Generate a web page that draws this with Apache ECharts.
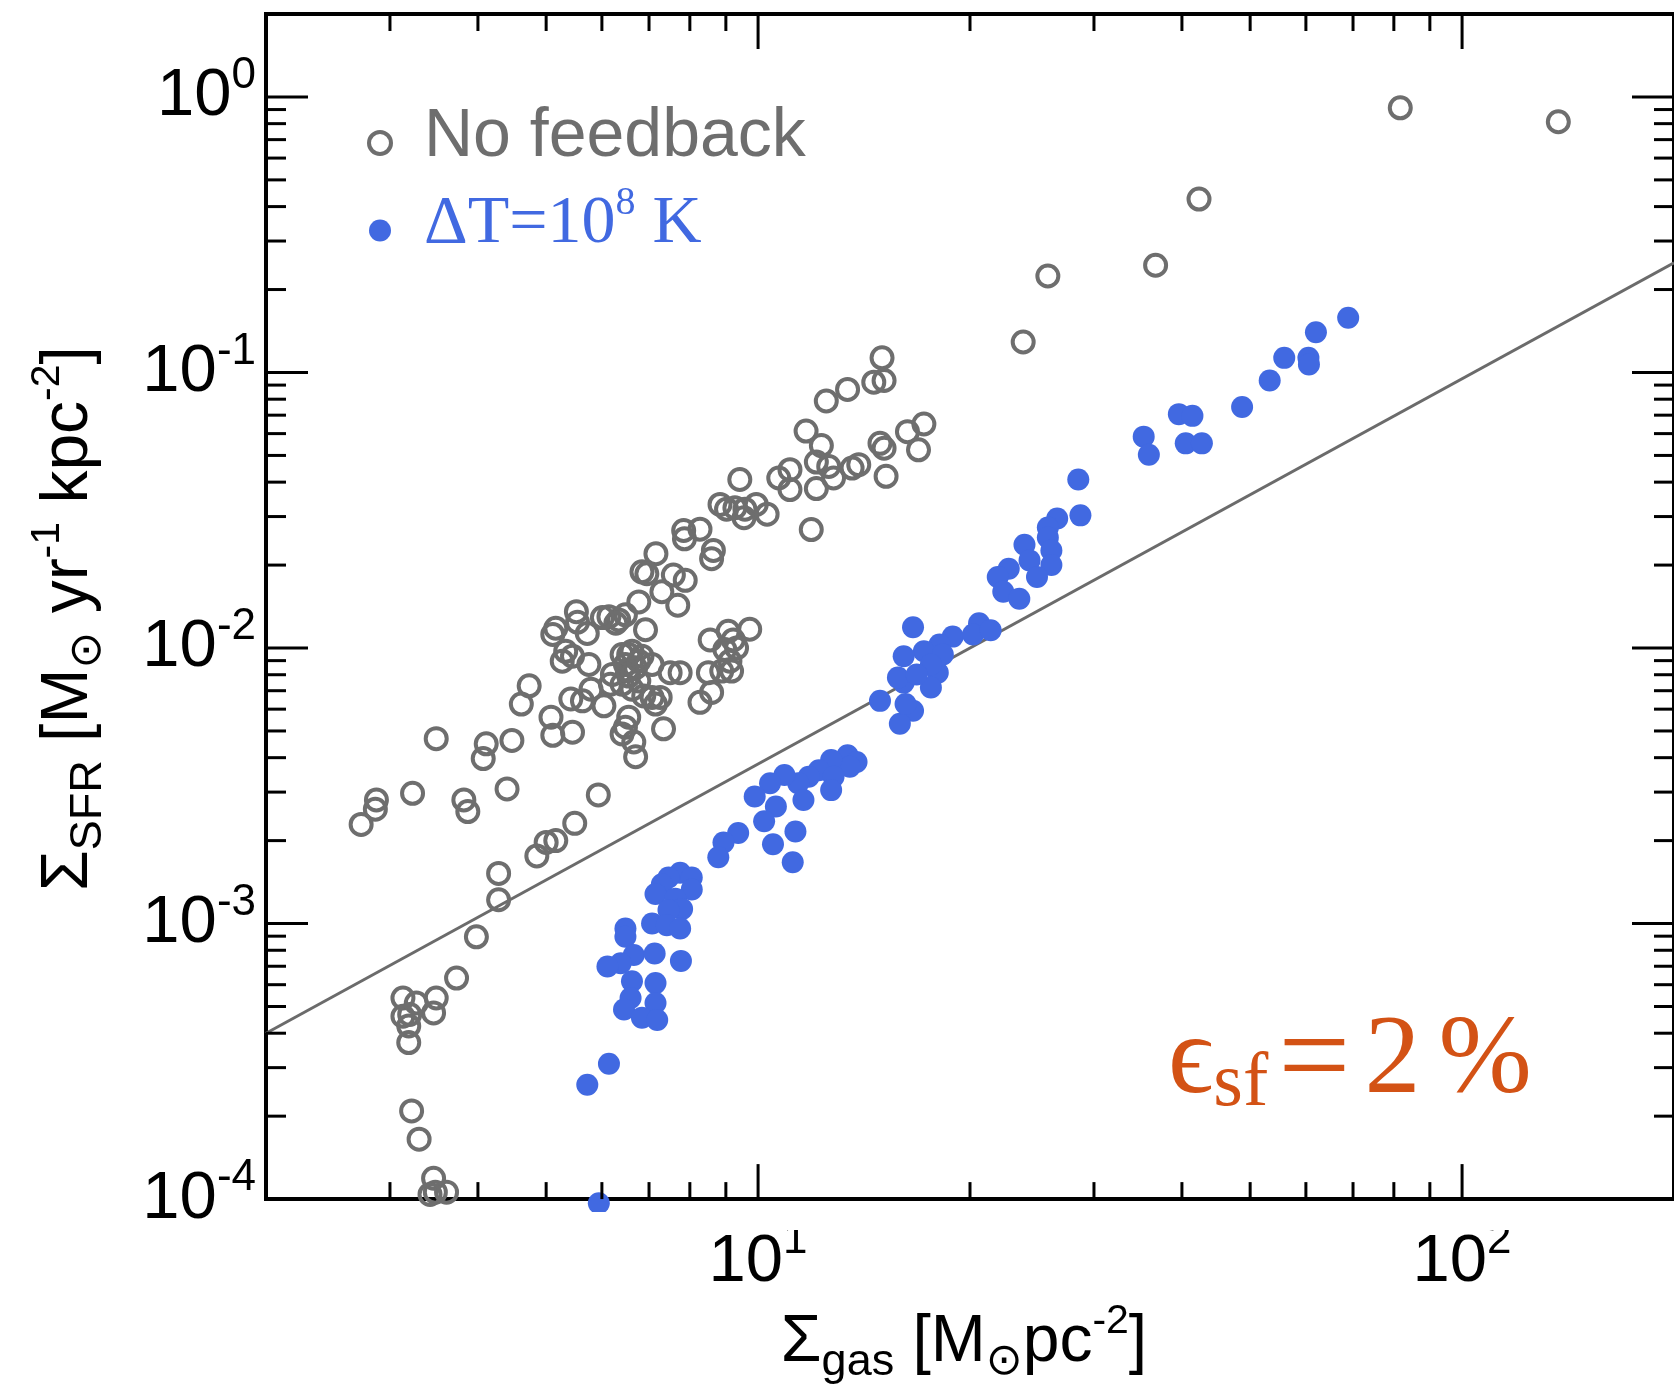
<!DOCTYPE html>
<html>
<head>
<meta charset="utf-8">
<script src="https://cdn.jsdelivr.net/npm/echarts@6/dist/echarts.min.js"></script>
<style>
  html, body { margin: 0; padding: 0; background: #ffffff; }
  #chart { width: 1674px; height: 1390px; }
</style>
</head>
<body>
<div id="chart"></div>
<script>
// Gas surface density [Msun pc^-2] vs SFR surface density [Msun yr^-1 kpc^-2]
const noFeedback = [
  [81.7, 0.913], [137, 0.813], [42.3, 0.426], [36.7, 0.245], [25.8, 0.224], [23.8, 0.129],
  [15.0, 0.113], [14.6, 0.0922], [15.1, 0.0935], [13.4, 0.0868], [12.5, 0.0788], [11.7, 0.0613],
  [12.3, 0.0543], [12.1, 0.0473], [12.6, 0.0456], [12.8, 0.0414], [12.1, 0.0379], [13.6, 0.0450],
  [13.9, 0.0463], [14.9, 0.0553], [15.1, 0.0531], [15.2, 0.0420], [16.3, 0.0610], [17.2, 0.0650],
  [16.9, 0.0524], [11.9, 0.0269], [11.1, 0.0444], [10.7, 0.0414], [11.1, 0.0376], [9.42, 0.0409],
  [8.83, 0.0332], [9.02, 0.0319], [9.27, 0.0323], [9.58, 0.0319], [9.55, 0.0297], [9.94, 0.0332],
  [10.3, 0.0306], [7.84, 0.0267], [7.86, 0.0249], [8.27, 0.0270], [8.64, 0.0226], [8.59, 0.0211],
  [7.16, 0.0220], [6.84, 0.0189], [6.95, 0.0186], [6.77, 0.0147], [7.58, 0.0184], [7.88, 0.0176],
  [7.30, 0.0160], [7.69, 0.0143], [6.14, 0.0130], [6.34, 0.01265], [6.92, 0.01165], [5.52, 0.01355],
  [6.48, 0.0132], [6.28, 0.0123], [5.16, 0.0118], [5.11, 0.0112], [5.72, 0.0113], [5.33, 0.00973],
  [5.45, 0.00934], [5.27, 0.00896], [5.75, 0.00872], [8.55, 0.0107], [9.07, 0.0115], [9.73, 0.0117],
  [9.22, 0.0107], [9.32, 0.0100], [8.97, 0.00987], [9.12, 0.00896], [8.50, 0.00814], [8.88, 0.00825],
  [9.17, 0.00825], [8.59, 0.00690], [8.27, 0.00635], [6.41, 0.00947], [6.62, 0.00973], [6.84, 0.00934],
  [6.48, 0.00872], [6.70, 0.00848], [6.55, 0.00791], [6.77, 0.00759], [6.41, 0.00739], [6.62, 0.00709],
  [7.07, 0.00872], [6.17, 0.00739], [5.79, 0.00709], [7.50, 0.00814], [7.75, 0.00814], [7.07, 0.00662],
  [7.26, 0.00662], [7.15, 0.00626], [6.88, 0.00670], [5.42, 0.00653], [5.63, 0.00643], [6.04, 0.00617],
  [4.73, 0.00729], [4.61, 0.00626], [5.08, 0.00561], [5.11, 0.00482], [5.45, 0.00495], [6.55, 0.00561],
  [6.48, 0.00516], [6.41, 0.00488], [6.66, 0.00456], [6.70, 0.00403], [7.34, 0.00509], [3.49, 0.00469],
  [4.11, 0.00449], [4.07, 0.00397], [4.47, 0.00462], [3.23, 0.00297], [2.87, 0.00281], [2.86, 0.00260],
  [2.73, 0.00229], [3.82, 0.00281], [3.87, 0.00255], [4.40, 0.00308], [5.93, 0.00293], [5.49, 0.00231],
  [5.00, 0.00197], [5.16, 0.00200], [4.85, 0.00176], [4.28, 0.00152], [4.28, 0.00122], [3.98, 0.000895],
  [3.73, 0.000634], [3.49, 0.000537], [3.13, 0.000537], [3.27, 0.000515], [3.46, 0.000474], [3.13, 0.000461],
  [3.20, 0.000468], [3.19, 0.000425], [3.19, 0.000370], [3.22, 0.000209], [3.30, 0.000165], [3.46, 0.000119],
  [3.48, 0.000106], [3.61, 0.000106], [3.42, 0.000104], [6.21, 0.00802], [6.55, 0.00947], [6.77, 0.00896],
  [6.52, 0.00830], [6.01, 0.0129], [5.54, 0.0124]
];

const heated = [
  [68.9, 0.158], [62.0, 0.140], [55.9, 0.113], [60.5, 0.113], [60.6, 0.107], [53.3, 0.0935],
  [48.7, 0.0750], [39.6, 0.0706], [41.4, 0.0696], [40.5, 0.0553], [42.7, 0.0553], [35.3, 0.0585],
  [35.9, 0.0503], [28.5, 0.0409], [28.7, 0.0303], [26.6, 0.0295], [25.8, 0.0274], [25.8, 0.0252],
  [23.9, 0.0237], [26.1, 0.0226], [24.3, 0.0208], [26.1, 0.0200], [24.9, 0.0181], [22.7, 0.0194],
  [21.9, 0.0181], [22.3, 0.0160], [23.5, 0.0151], [16.6, 0.0119], [18.9, 0.0110], [20.6, 0.0123],
  [20.2, 0.0112], [21.4, 0.0116], [18.1, 0.0103], [17.2, 0.00973], [16.1, 0.00934], [18.0, 0.00814],
  [17.6, 0.00719], [16.1, 0.00749], [16.6, 0.00592], [15.9, 0.00531], [18.3, 0.00947], [17.6, 0.00872],
  [15.8, 0.00781], [16.8, 0.00802], [14.9, 0.00643], [16.2, 0.00626], [13.4, 0.00408], [13.8, 0.00386],
  [13.5, 0.00371], [12.7, 0.00392], [12.2, 0.00360], [12.8, 0.00341], [12.7, 0.00305], [11.8, 0.00341],
  [11.4, 0.00323], [11.6, 0.00281], [10.9, 0.00346], [10.4, 0.00323], [9.89, 0.00289], [10.6, 0.00266],
  [10.2, 0.00235], [11.3, 0.00216], [10.5, 0.00194], [11.2, 0.00167], [9.37, 0.00213], [8.93, 0.00197],
  [8.78, 0.00174], [7.75, 0.00153], [8.05, 0.00147], [7.46, 0.00147], [7.30, 0.00139], [8.05, 0.00133],
  [7.15, 0.00128], [7.63, 0.00123], [7.80, 0.00113], [7.46, 0.00112], [7.07, 0.00100], [7.42, 0.000986],
  [7.75, 0.000959], [6.48, 0.000959], [6.48, 0.000895], [6.66, 0.000769], [6.38, 0.000718], [6.11, 0.000698],
  [7.13, 0.000779], [7.77, 0.000732], [6.62, 0.000617], [7.15, 0.000608], [6.59, 0.000537], [7.15, 0.000515],
  [6.45, 0.000488], [6.84, 0.000455], [7.19, 0.000447], [6.14, 0.000310], [5.72, 0.000260], [5.94, 0.0000966]
];

// Reference star-formation relation for a 2% efficiency
const relationGas = [2, 200];
const relationSfr = [4.0e-4, 0.25];

// Axis ranges and tick values
const xRange = [2, 200];
const yRange = [1e-4, 2];
const xMajorTicks = [10, 100];
const xMinorTicks = [3, 4, 5, 6, 7, 8, 9, 20, 30, 40, 50, 60, 70, 80, 90];
const yMajorTicks = [1e-4, 1e-3, 1e-2, 1e-1, 1];
const yMinorTicks = [
  2e-4, 3e-4, 4e-4, 5e-4, 6e-4, 7e-4, 8e-4, 9e-4,
  2e-3, 3e-3, 4e-3, 5e-3, 6e-3, 7e-3, 8e-3, 9e-3,
  2e-2, 3e-2, 4e-2, 5e-2, 6e-2, 7e-2, 8e-2, 9e-2,
  0.2, 0.3, 0.4, 0.5, 0.6, 0.7, 0.8, 0.9
];

const GRAY = '#6e6e6e';
const BLUE = '#4169e1';
const ORANGE = '#d35215';
const SANS = '"Liberation Sans", Helvetica, Arial, sans-serif';
const SERIF = '"Liberation Serif", "Times New Roman", "DejaVu Serif", serif';
const SYMBOL = '"DejaVu Sans", sans-serif';

function isDecade(v) {
  const l = Math.log10(v);
  return Math.abs(l - Math.round(l)) < 1e-6;
}
function decadeLabel(v) {
  if (!isDecade(v)) return '';
  return '{b|10}{s|' + Math.round(Math.log10(v)) + '}';
}

const tickRich = {
  b: { fontFamily: SANS, fontSize: 67, lineHeight: 84, color: '#000' },
  s: { fontFamily: SANS, fontSize: 44, lineHeight: 42, height: 42, verticalAlign: 'top', color: '#000' }
};
const titleRich = {
  m: { fontFamily: SANS, fontSize: 66, lineHeight: 84, color: '#000' },
  sub: { fontFamily: SANS, fontSize: 45, lineHeight: 44, height: 44, verticalAlign: 'bottom', color: '#000' },
  sun: { fontFamily: SYMBOL, fontSize: 44, lineHeight: 44, height: 44, verticalAlign: 'bottom', color: '#000' },
  sup: { fontFamily: SANS, fontSize: 41, lineHeight: 42, height: 42, verticalAlign: 'top', color: '#000' }
};

// Tick marks on all four sides, placed through the axis scales
const xTickData = xMajorTicks.map(v => [v, yRange[0], 1]).concat(xMinorTicks.map(v => [v, yRange[0], 0]));
const yTickData = yMajorTicks.map(v => [xRange[0], v, 1]).concat(yMinorTicks.map(v => [xRange[0], v, 0]));
const tickStyle = { stroke: '#000', lineWidth: 3 };

function renderXTick(params, api) {
  const v = api.value(0);
  const major = api.value(2) === 1;
  const len = major ? 35 : 17;
  const b = api.coord([v, yRange[0]]);
  const t = api.coord([v, yRange[1]]);
  return {
    type: 'group',
    children: [
      { type: 'line', shape: { x1: b[0], y1: b[1], x2: b[0], y2: b[1] - len }, style: tickStyle },
      { type: 'line', shape: { x1: t[0], y1: t[1], x2: t[0], y2: t[1] + len }, style: tickStyle }
    ]
  };
}
function renderYTick(params, api) {
  const v = api.value(1);
  const major = api.value(2) === 1;
  const len = major ? 42 : 20;
  const l = api.coord([xRange[0], v]);
  const r = api.coord([xRange[1], v]);
  return {
    type: 'group',
    children: [
      { type: 'line', shape: { x1: l[0], y1: l[1], x2: l[0] + len, y2: l[1] }, style: tickStyle },
      { type: 'line', shape: { x1: r[0], y1: r[1], x2: r[0] - len, y2: r[1] }, style: tickStyle }
    ]
  };
}

const chart = echarts.init(document.getElementById('chart'), null, { width: 1674, height: 1390 });

chart.setOption({
  animation: false,
  backgroundColor: '#ffffff',
  grid: {
    left: 266, top: 14, width: 1414, height: 1196,
    show: true, borderColor: '#000', borderWidth: 4, backgroundColor: 'transparent'
  },
  xAxis: {
    type: 'log', logBase: 10, min: xRange[0], max: xRange[1],
    axisLine: { show: false }, axisTick: { show: false }, splitLine: { show: false },
    minorTick: { show: false }, minorSplitLine: { show: false },
    axisLabel: { formatter: decadeLabel, rich: tickRich, margin: 21, showMinLabel: false, showMaxLabel: false },
    name: '{m|Σ}{sub|gas}{m| [M}{sun|⊙}{m|pc}{sup|-2}{m|]}',
    nameLocation: 'middle', nameGap: 91,
    nameTextStyle: { rich: titleRich, padding: [0, 12, 0, 0] }
  },
  yAxis: {
    type: 'log', logBase: 10, min: yRange[0], max: yRange[1],
    axisLine: { show: false }, axisTick: { show: false }, splitLine: { show: false },
    minorTick: { show: false }, minorSplitLine: { show: false },
    axisLabel: { formatter: decadeLabel, rich: tickRich, margin: 10, showMinLabel: true, showMaxLabel: false },
    name: '{m|Σ}{sub|SFR}{m| [M}{sun|⊙}{m| yr}{sup|-1}{m| kpc}{sup|-2}{m|]}',
    nameLocation: 'middle', nameGap: 155,
    nameTextStyle: { rich: titleRich, padding: [0, 24, 0, 0] }
  },
  legend: {
    orient: 'vertical', left: 367, top: 103, padding: 0, itemGap: 0,
    itemWidth: 22, itemHeight: 22, selectedMode: false, icon: 'circle',
    data: [
      { name: 'No feedback', itemStyle: { color: 'rgba(0,0,0,0)', borderColor: GRAY, borderWidth: 4, opacity: 1 } },
      { name: 'ΔT=10^8 K', itemStyle: { color: BLUE, borderWidth: 0, opacity: 1 } }
    ],
    formatter: function (name) {
      if (name === 'No feedback') return '{g|No feedback}';
      return '{b0|ΔT=10}{bs|8}{b1| K}';
    },
    textStyle: {
      rich: {
        g: { fontFamily: SANS, fontSize: 68, lineHeight: 72, color: GRAY, padding: [0, 0, 12, 28] },
        b0: { fontFamily: SERIF, fontSize: 68, lineHeight: 72, color: BLUE, padding: [0, 0, 12, 28] },
        bs: { fontFamily: SERIF, fontSize: 40, lineHeight: 17, height: 17, verticalAlign: 'top', color: BLUE },
        b1: { fontFamily: SERIF, fontSize: 68, lineHeight: 72, color: BLUE, padding: [0, 0, 12, 0] }
      }
    }
  },
  graphic: [
    {
      type: 'rect', z: 100, silent: true,
      shape: { x: 230, y: 1212, width: 1444, height: 18 },
      style: { fill: '#ffffff' }
    },
    {
      type: 'text', x: 1168, y: 1003, z: 100, silent: true,
      style: {
        text: '{e|ϵ}{sub|sf}{eq|=}{e|2}{pc|%}',
        verticalAlign: 'top', align: 'left',
        rich: {
          e: { fontFamily: SERIF, fontSize: 112, lineHeight: 120, fill: ORANGE },
          eq: { fontFamily: SERIF, fontSize: 128, lineHeight: 120, fill: ORANGE, padding: [0, 14, 0, 10] },
          pc: { fontFamily: SERIF, fontSize: 112, lineHeight: 120, fill: ORANGE, padding: [0, 0, 0, 18] },
          sub: { fontFamily: SERIF, fontSize: 76, lineHeight: 76, height: 76, verticalAlign: 'bottom', fill: ORANGE }
        }
      }
    }
  ],
  series: [
    {
      type: 'line', name: 'relation', silent: true, z: 1,
      data: relationGas.map((g, i) => [g, relationSfr[i]]),
      symbol: 'none', showSymbol: false,
      lineStyle: { color: '#6b6b6b', width: 3 }
    },
    {
      type: 'scatter', name: 'No feedback', z: 2, clip: false,
      data: noFeedback, symbol: 'circle', symbolSize: 21,
      itemStyle: { color: 'rgba(0,0,0,0)', borderColor: GRAY, borderWidth: 4, opacity: 1 }
    },
    {
      type: 'scatter', name: 'ΔT=10^8 K', z: 3, clip: false,
      data: heated, symbol: 'circle', symbolSize: 22,
      itemStyle: { color: BLUE, borderWidth: 0, opacity: 1 }
    },
    {
      type: 'custom', name: 'xTicks', silent: true, z: 5, clip: false,
      data: xTickData, renderItem: renderXTick
    },
    {
      type: 'custom', name: 'yTicks', silent: true, z: 5, clip: false,
      data: yTickData, renderItem: renderYTick
    }
  ]
});
</script>
</body>
</html>
